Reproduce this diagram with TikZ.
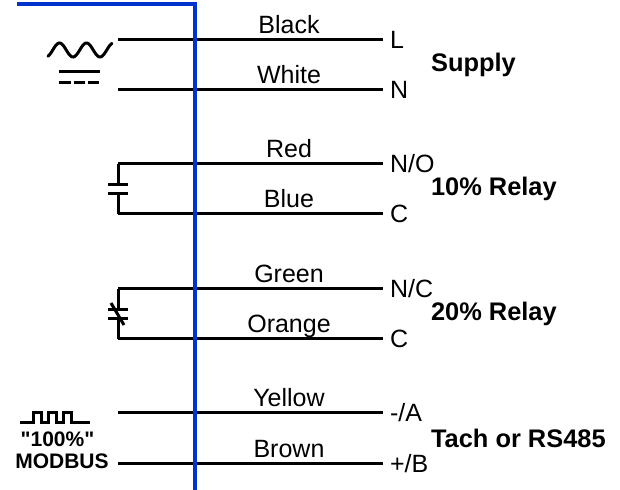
\documentclass[tikz,border=0pt]{standalone}
\usepackage{fontspec}
\setmainfont[Ligatures=TeXOff]{Liberation Sans}
\usetikzlibrary{calc}
\definecolor{busblue}{HTML}{0033CC}
\newcommand*{\wx}{118}
\newcommand*{\ex}{383}
\newcommand*{\bx}{195}
\newcommand*{\Wires}[1]{% #1 = list of y/wire colour/pin name
  \foreach \y/\lab/\pinname in {#1} {
    \coordinate (w\lab) at (\wx,\y);
    \node [pinlbl, anchor=west] (t\lab) at (\ex,\y) {\pinname};
    \draw [wire] (w\lab) -- (t\lab.west);
    \node [wirelbl, anchor=base] (n\lab) at ({(\bx+\ex)/2},\y-6) {\lab};
    }%
}

\begin{document}
\begin{tikzpicture}[x=0.5pt, y=-0.5pt,
    wire/.style={line width=1.5pt},
    bus/.style={line width=2pt, draw=busblue},
    pinlbl/.style={font=\fontsize{12.5}{15}\selectfont},
    wirelbl/.style={font=\fontsize{12.5}{15}\selectfont, inner sep=0pt},
    group/.style={font=\fontsize{12.7}{15}\selectfont\bfseries},
    small/.style={font=\fontsize{10.5}{12}\selectfont\bfseries, inner sep=0pt}]
  \useasboundingbox (0,0) rectangle (620,490);
  \Wires{40/Black/L, 90/White/N}
  \Wires{164/Red/{N/O}, 214/Blue/C}
  \Wires{289/Green/{N/C}, 339/Orange/C}
  \Wires{413/Yellow/{-/A}, 464/Brown/{+/B}}
  % group names
  \node [group, anchor=west] (gSupply) at ($(tBlack.west)!.5!(tWhite.west)+(41,0)$) {Supply};
  \node [group, anchor=west] (gRelayA) at ($(tRed.west)!.5!(tBlue.west)+(41,0)$) {10\% Relay};
  \node [group, anchor=west] (gRelayB) at ($(tGreen.west)!.5!(tOrange.west)+(41,0)$) {20\% Relay};
  \node [group, anchor=west] (gTach) at ($(tYellow.west)!.5!(tBrown.west)+(41,0)$) {Tach or RS485};
  % AC supply symbol
  \draw [wire, line cap=round] plot [domain=48:112, samples=80, smooth]
    (\x, {50+7*cos(13.333*(\x-46))});
  \draw [wire] (59,72) -- (100,72);
  \draw [wire, dash pattern=on 5.75pt off 1.5pt] (59,83) -- (99,83);
  % normally open contact
  \draw [wire] (wRed) -- (\wx,184.5) (108,184.5) -- (128,184.5)
    (108,193.5) -- (128,193.5) (\wx,193.5) -- (wBlue);
  % normally closed contact
  \draw [wire] (wGreen) -- (\wx,309.5) (108,309.5) -- (128,309.5)
    (108,318.5) -- (128,318.5) (\wx,318.5) -- (wOrange);
  \draw [wire] (111,303) -- (124,325);
  % pulse train
  \draw [wire] (20,423) -| (33,413) -| (41,423) -| (48,413) -| (56,423)
    -| (63,413) -| (71,423) -- (90,423);
  \node [small] (pct) at (57.5,439) {"100\%"};
  \node [small] (modbus) at (62,461) {MODBUS};
  % blue bus
  \draw [bus] (17,4) -- (\bx,4) -- (\bx,490);
\end{tikzpicture}
\end{document}
